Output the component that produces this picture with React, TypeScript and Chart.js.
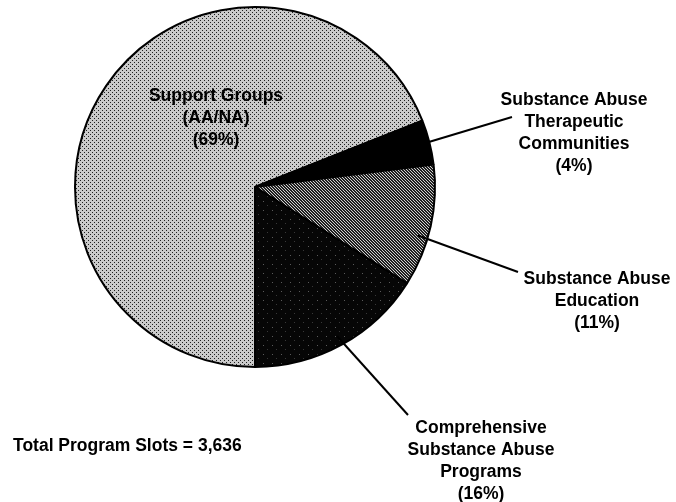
import React, { useEffect, useRef } from "react";
import { Chart, registerables } from "chart.js";

Chart.register(...registerables);

// ---- data ----
const categories = [
  "Support Groups (AA/NA)",
  "Substance Abuse Therapeutic Communities",
  "Substance Abuse Education",
  "Comprehensive Substance Abuse Programs",
];
const shares = [69, 4, 11, 16];
const labelLines = [
  ["Support Groups", "(AA/NA)"],
  ["Substance Abuse", "Therapeutic", "Communities"],
  ["Substance Abuse", "Education"],
  ["Comprehensive", "Substance Abuse", "Programs"],
];
const totalSlots = 3636;

// ---- layout ----
const W = 676;
const H = 502;
const FONT = 'bold 17.5px "Liberation Sans", Arial, sans-serif';
const LINE_H = 22;
const labelPos = [
  { x: 216, y: 101 },
  { x: 574, y: 105 },
  { x: 597, y: 284 },
  { x: 481, y: 433 },
];
const leaderEnd: ({ x: number; y: number } | null)[] = [
  null,
  { x: 512, y: 117 },
  { x: 518, y: 272 },
  { x: 408, y: 415 },
];
const leaderFrac = [0.5, 0.5, 0.6, 0.5];
const totalPos = { x: 13, y: 451 };

function makePattern(size: number, base: string, dots: [number, number, string][]) {
  const c = document.createElement("canvas");
  c.width = size;
  c.height = size;
  const g = c.getContext("2d")!;
  g.fillStyle = base;
  g.fillRect(0, 0, size, size);
  dots.forEach(([x, y, col]) => {
    g.fillStyle = col;
    g.fillRect(x, y, 1, 1);
  });
  return g.createPattern(c, "repeat")!;
}

const labelPlugin = {
  id: "sliceLabels",
  afterDraw(chart: any) {
    const ctx: CanvasRenderingContext2D = chart.ctx;
    const meta = chart.getDatasetMeta(0);
    ctx.save();
    ctx.fillStyle = "#000";
    ctx.strokeStyle = "#000";
    ctx.lineWidth = 2;
    meta.data.forEach((arc: any, i: number) => {
      const end = leaderEnd[i];
      if (end) {
        const { x, y, startAngle, endAngle, outerRadius } = arc.getProps(
          ["x", "y", "startAngle", "endAngle", "outerRadius"],
          true
        );
        const a = startAngle + (endAngle - startAngle) * leaderFrac[i];
        ctx.beginPath();
        ctx.moveTo(x + Math.cos(a) * (outerRadius - 10), y + Math.sin(a) * (outerRadius - 10));
        ctx.lineTo(end.x, end.y);
        ctx.stroke();
      }
      const lines = [...labelLines[i], `(${shares[i]}%)`];
      ctx.font = FONT;
      ctx.textAlign = "center";
      ctx.textBaseline = "alphabetic";
      lines.forEach((t, k) => {
        ctx.fillText(t, labelPos[i].x, labelPos[i].y + k * LINE_H);
      });
    });
    ctx.textAlign = "left";
    ctx.fillText(
      `Total Program Slots = ${totalSlots.toLocaleString("en-US")}`,
      totalPos.x,
      totalPos.y
    );
    ctx.restore();
  },
};

export default function App() {
  const ref = useRef<HTMLCanvasElement | null>(null);

  useEffect(() => {
    document.body.style.margin = "0";
    const canvas = ref.current!;
    const support = makePattern(4, "#cacaca", [
      [0, 0, "#1e1e1e"],
      [2, 2, "#1e1e1e"],
    ]);
    const hatch = makePattern(3, "#202020", [
      [0, 0, "#d0d0d0"],
      [1, 1, "#d0d0d0"],
      [2, 2, "#d0d0d0"],
    ]);
    const speckle = makePattern(9, "#060606", [
      [2, 3, "#5a5a5a"],
      [6, 7, "#383838"],
    ]);
    const chart = new Chart(canvas, {
      type: "pie",
      data: {
        labels: categories,
        datasets: [
          {
            data: shares,
            backgroundColor: [support, "#000000", hatch, speckle] as any,
            borderColor: "#000000",
            borderWidth: 2,
          },
        ],
      },
      options: {
        responsive: false,
        animation: false,
        devicePixelRatio: 1,
        events: [],
        rotation: 180,
        layout: { padding: { left: 74, right: W - 436, top: 6, bottom: H - 368 } },
        plugins: {
          legend: { display: false },
          tooltip: { enabled: false },
        },
      },
      plugins: [labelPlugin],
    });
    return () => chart.destroy();
  }, []);

  return (
    <div style={{ position: "absolute", left: 0, top: 0, width: W, height: H, background: "#fff" }}>
      <canvas ref={ref} width={W} height={H} style={{ display: "block" }} />
    </div>
  );
}
